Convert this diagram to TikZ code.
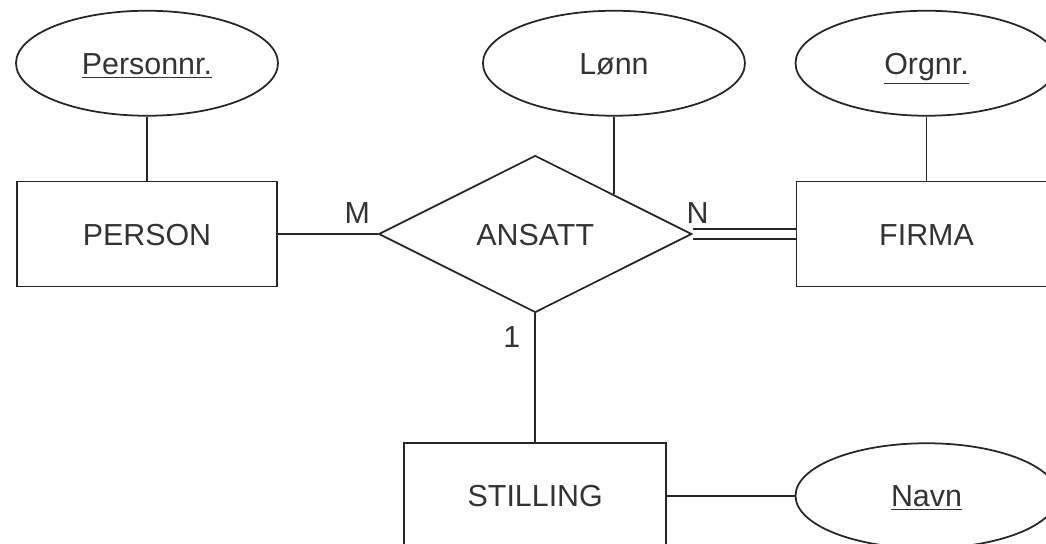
\documentclass[tikz,border=0pt]{standalone}
\usepackage{fontspec}
\setmainfont{Liberation Sans}
\usetikzlibrary{shapes.geometric}
\usetikzlibrary{positioning, calc}
\tikzset{entity/.style={draw=black!85, rectangle, minimum width=5.2cm, minimum height=2.1cm, text height=0.44cm, text depth=0pt, text=black!80}}
\tikzset{attribute/.style={draw=black!85, ellipse, minimum width=5.24cm, minimum height=2.1cm, text height=0.44cm, text depth=0pt, text=black!80}}
\tikzset{relationship/.style={draw=black!85, diamond, minimum width=6.26cm, minimum height=3.14cm, inner sep=0pt, text height=0.44cm, text depth=0pt, text=black!80}}
\tikzset{cardinality/.style={text=black!80, inner xsep=0.14cm, inner ysep=0.2cm}}
\tikzset{link/.style={draw=black!85}}

\begin{document}
\begin{tikzpicture}[node distance=2.06cm, line width=1pt, font=\fontsize{17.3}{20}\selectfont]
\useasboundingbox (0,0) rectangle (20.92,-10.88);
\node[entity] (person) at (2.94,-4.68) {PERSON};
\node[attribute, above=1.28cm of person] (personnr) {\underline{Personnr.}};
\node[relationship, right=2cm of person] (ansatt) {ANSATT};
\node[entity, right=of ansatt] (firma) {FIRMA};
\node[attribute, above=1.28cm of firma] (orgnr) {\underline{Orgnr.}};
\coordinate (lonnfoot) at ($(ansatt.north)!.5!(ansatt.east)$);
\node[attribute] (lonn) at (lonnfoot |- personnr) {Lønn};
\node[entity, below=2.58cm of ansatt, minimum width=5.24cm] (stilling) {STILLING};
\node[attribute] (navn) at (stilling -| firma) {\underline{Navn}};
\draw[link] (personnr) -- (person);
\draw[link] (orgnr) -- (firma);
\draw[link] (lonn) -- (lonnfoot);
\draw[link] (person) -- node[cardinality, pos=1, above left] {M} (ansatt);
\draw[link, double, double distance=0.17cm] (ansatt) -- node[cardinality, pos=0, above, xshift=0.1cm] {N} (firma);
\draw[link] (ansatt) -- node[cardinality, pos=0, below left, inner xsep=0.28cm, inner ysep=0.24cm] {1} (stilling);
\draw[link] (stilling) -- (navn);
\end{tikzpicture}
\end{document}
